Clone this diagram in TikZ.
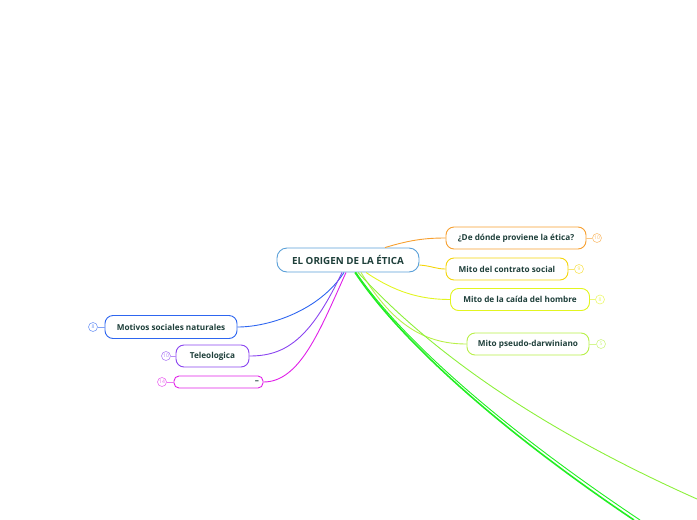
\documentclass[tikz,border=0pt]{standalone}
\usepackage{fontspec}
\setmainfont{Open Sans}
\usetikzlibrary{positioning}
\definecolor{inktext}{HTML}{1E3F3A}
\definecolor{rootblue}{HTML}{5AA0D8}
\definecolor{mmorange}{HTML}{F7A030}
\definecolor{mmyellow}{HTML}{F5D50A}
\definecolor{mmlime}{HTML}{E2F520}
\definecolor{mmpale}{HTML}{B8F048}
\definecolor{mmgreen}{HTML}{8CF03A}
\definecolor{mmbright}{HTML}{22EE22}
\definecolor{mmblue}{HTML}{2E66F0}
\definecolor{mmpurple}{HTML}{8A44F0}
\definecolor{mmmagenta}{HTML}{E020E8}

\begin{document}
\begin{tikzpicture}[x=1pt, y=-1pt,
    topic/.style={rectangle, draw=#1, line width=0.9pt, fill=white, rounded corners=8pt,
                  minimum height=22pt, inner xsep=4pt, align=center,
                  font=\fontsize{8.2}{9}\selectfont\bfseries, text=inktext},
    badge/.style={circle, draw=#1!65, line width=0.6pt, inner sep=0pt, minimum size=9pt,
                  font=\fontsize{5}{5}\selectfont, text=#1!70},
    link/.style={draw=#1, line width=0.9pt}
]
    \useasboundingbox (0,0) rectangle (697,520);

    % root
    \node[topic=rootblue, minimum width=142pt, minimum height=24pt, rounded corners=10pt,
          font=\fontsize{9.8}{10}\selectfont\bfseries] (root) at (348,260) {EL ORIGEN DE LA ÉTICA};

    % right side topics
    \node[topic=mmorange, minimum width=140pt] (origin) at (516,238) {¿De dónde proviene la ética?};
    \node[topic=mmyellow, minimum width=122pt] (contract) at (507,269) {Mito del contrato social};
    \node[topic=mmlime, minimum width=139pt] (fall) at (520,299.5) {Mito de la caída del hombre};
    \node[topic=mmpale, minimum width=122pt] (darwin) at (528,344) {Mito pseudo-darwiniano};

    % left side topics
    \node[topic=mmblue, minimum width=132pt, minimum height=23pt] (motives) at (171,327) {Motivos sociales naturales};
    \node[topic=mmpurple, minimum width=73pt] (teleo) at (212.5,356) {Teleologica};
    \node[topic=mmmagenta, minimum height=12pt, rounded corners=5pt, text width=81pt,
          align=right, inner ysep=0pt] (blank) at (218.5,382) {--\hspace{3pt}};

    % count badges
    \node[badge=mmorange] (b-origin) at (597,238) {10};
    \node[badge=mmyellow] (b-contract) at (579,269) {9};
    \node[badge=mmlime] (b-fall) at (600,299.5) {8};
    \node[badge=mmpale] (b-darwin) at (601,344) {5};
    \node[badge=mmblue] (b-motives) at (93,327) {8};
    \node[badge=mmpurple] (b-teleo) at (166,356) {10};
    \node[badge=mmmagenta] (b-blank) at (162,382) {14};

    \draw[link=mmorange!60] (origin) -- (b-origin);
    \draw[link=mmyellow!60] (contract) -- (b-contract);
    \draw[link=mmlime!60] (fall) -- (b-fall);
    \draw[link=mmpale!60] (darwin) -- (b-darwin);
    \draw[link=mmblue!60] (motives) -- (b-motives);
    \draw[link=mmpurple!60] (teleo) -- (b-teleo);
    \draw[link=mmmagenta!60] (blank) -- (b-blank);

    % free ends of the long green branches
    \coordinate (far1) at (697,499);
    \coordinate (far2) at (640,520);
    \coordinate (far3) at (634,520);

    % branches
    \draw[link=mmorange] ([xshift=37pt]root.north) .. controls (410,240) and (425,238) .. (origin.west);
    \draw[link=mmyellow] ([yshift=-5pt]root.east) .. controls (432,266) and (436,269) .. (contract.west);
    \draw[link=mmlime] ([xshift=18pt]root.south) .. controls (395,292) and (420,299.5) .. (fall.west);
    \draw[link=mmpale] ([xshift=13pt]root.south) .. controls (390,320) and (420,344) .. (darwin.west);
    \draw[link=mmgreen] ([xshift=10pt]root.south) .. controls (420,340) and (520,420) .. (far1);
    \draw[link=mmbright, line width=1.6pt] ([xshift=7pt]root.south) .. controls (400,340) and (500,430) .. (far3);
    \draw[link=mmbright] ([xshift=8pt]root.south) .. controls (402,340) and (505,430) .. (far2);
    \draw[link=mmblue] ([xshift=-4pt]root.south) .. controls (320,310) and (270,327) .. (motives.east);
    \draw[link=mmpurple] ([xshift=-6pt]root.south) .. controls (310,340) and (285,356) .. (teleo.east);
    \draw[link=mmmagenta] ([xshift=-2pt]root.south) .. controls (320,330) and (300,382) .. (blank.east);
\end{tikzpicture}
\end{document}
